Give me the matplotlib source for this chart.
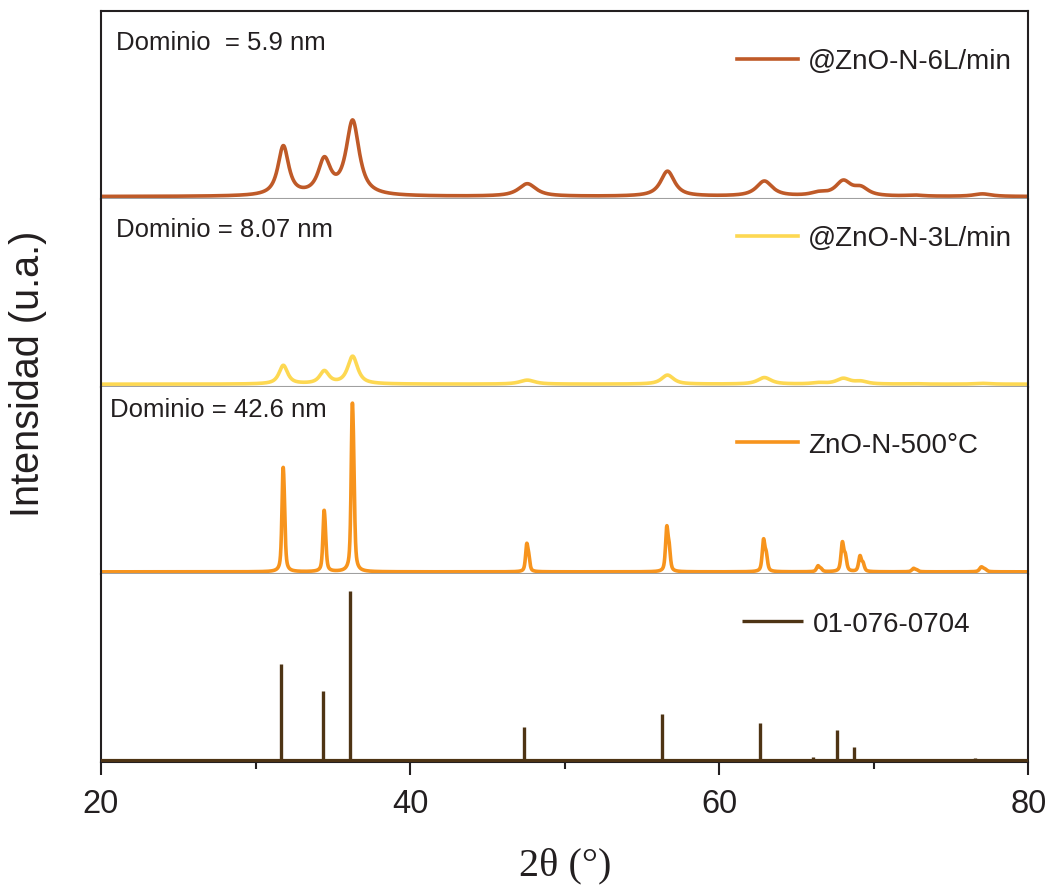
"""Difractogramas XRD apilados: ZnO-N (6 L/min, 3 L/min, 500 °C) + patrón 01-076-0704."""

import numpy as np
import matplotlib
matplotlib.use("Agg")
import matplotlib.pyplot as plt

plt.rcParams["font.family"] = ["Liberation Sans", "DejaVu Sans"]

# Posiciones de picos (2θ, °) de las muestras
PEAKS_2THETA = [31.77, 34.42, 36.25, 47.54, 56.60, 62.86, 66.38, 67.96, 69.10, 72.56, 76.95]

# @ZnO-N-6L/min : alturas (u.a.) y FWHM (°)
I_6L = [49, 34, 74, 12.5, 25, 15, 3.0, 14.5, 7.5, 1.0, 2.5]
W_6L = [0.82, 0.95, 1.0, 1.35, 1.05, 1.2, 1.2, 1.15, 1.1, 1.2, 1.3]

# @ZnO-N-3L/min
I_3L = [18.5, 12.5, 27.5, 4, 9, 6.5, 1.2, 5.5, 2.5, 0.4, 0.8]
W_3L = [0.65, 0.7, 0.75, 1.15, 0.9, 1.0, 1.0, 1.0, 0.95, 1.0, 1.1]

# ZnO-N-500°C
I_500 = [104, 61, 168, 28.5, 46, 33, 6, 30, 16, 3.5, 5]
W_500 = [0.17, 0.17, 0.17, 0.18, 0.19, 0.20, 0.22, 0.21, 0.21, 0.25, 0.28]

# Patrón de referencia 01-076-0704
REF_2THETA = [31.64, 34.37, 36.08, 47.38, 56.32, 62.66, 66.04, 67.61, 68.73, 72.36, 76.55]
REF_I = [57.3, 41.3, 100, 20.2, 28.0, 22.7, 3.2, 18.8, 9.0, 1.2, 2.6]

DOMAINS = ["Dominio  = 5.9 nm", "Dominio = 8.07 nm", "Dominio = 42.6 nm"]
LABELS = ["@ZnO-N-6L/min", "@ZnO-N-3L/min", "ZnO-N-500°C", "01-076-0704"]
COLORS = ["#bf5a28", "#fdd852", "#f7941d", "#4e3414"]

BACKGROUND = 2.5


def pattern(x, centers, heights, widths, eta=0.8):
    """Suma de pseudo-Voigt (Kα1 + Kα2), cada pico escalado a su altura."""
    y = np.full_like(x, BACKGROUND)
    for c, h, w in zip(centers, heights, widths):
        d2 = 2 * np.degrees(np.tan(np.radians(c / 2)) * 0.002486)
        shape = np.zeros_like(x)
        for cc, r in ((c, 1.0), (c + d2, 0.5)):
            u = (x - cc) / w
            shape += r * (eta / (1 + 4 * u**2) + (1 - eta) * np.exp(-4 * np.log(2) * u**2))
        y += h * shape / shape.max()
    return y


def main():
    x = np.linspace(20, 80, 6001)
    fig, axes = plt.subplots(4, 1, figsize=(10.53, 8.87), dpi=100, sharex=True,
                             gridspec_kw=dict(hspace=0))
    fig.subplots_adjust(left=0.0959, right=0.9767, top=0.986, bottom=0.1398)

    series = [(I_6L, W_6L, 0.9), (I_3L, W_3L, 0.85), (I_500, W_500, 0.6)]
    leg_pos = [(0.686, 0.734), (0.686, 0.79), (0.686, 0.69), (0.691, 0.738)]
    dom_pos = [(0.016, 0.835), (0.016, 0.84), (0.010, 0.88)]

    for i, ax in enumerate(axes):
        if i < 3:
            I, W, eta = series[i]
            y = pattern(x, PEAKS_2THETA, I, W, eta)
            ax.plot(x, y, color=COLORS[i], lw=2.6, label=LABELS[i])
            ax.set_ylim(0, 187)
            ax.text(*dom_pos[i], DOMAINS[i], transform=ax.transAxes, fontsize=18.5,
                    color="#231f20", ha="left", va="center")
        else:
            ax.axhline(0.4, color=COLORS[3], lw=3, zorder=3)
            ax.vlines(REF_2THETA, 0, REF_I, color=COLORS[3], lw=2.4, label=LABELS[3],
                      zorder=3)
            ax.set_ylim(0, 109.7)

        ax.legend(loc="center left", bbox_to_anchor=leg_pos[i], frameon=False,
                  fontsize=20, borderpad=0, borderaxespad=0, handlelength=2.2,
                  handletextpad=0.36, labelcolor="#231f20")

        ax.set_yticks([])
        for s in ("left", "right", "top", "bottom"):
            ax.spines[s].set_linewidth(1.5)
            ax.spines[s].set_color("#231f20")
        if i > 0:
            ax.spines["top"].set_visible(False)
        if i < 3:
            ax.spines["bottom"].set_color("#a0a0a0")
            ax.tick_params(axis="x", which="both", bottom=False, labelbottom=False)

    ax = axes[-1]
    ax.set_xlim(20, 80)
    ax.set_xticks([20, 40, 60, 80])
    ax.set_xticks([30, 50, 70], minor=True)
    ax.tick_params(axis="x", which="major", direction="out", length=9.5, width=1.5,
                   labelsize=23.5, pad=9, colors="#231f20")
    ax.tick_params(axis="x", which="minor", direction="out", length=5, width=1.5,
                   colors="#231f20")

    fig.text(0.027, 0.579, "Intensidad (u.a.)", rotation=90, fontsize=28.5,
             ha="center", va="center", color="#231f20")
    fig.text(0.537, 0.024, "2θ (°)", fontsize=29, family="Liberation Serif",
             ha="center", va="center", color="#231f20")

    fig.savefig("out.png", dpi=100)


if __name__ == "__main__":
    main()
